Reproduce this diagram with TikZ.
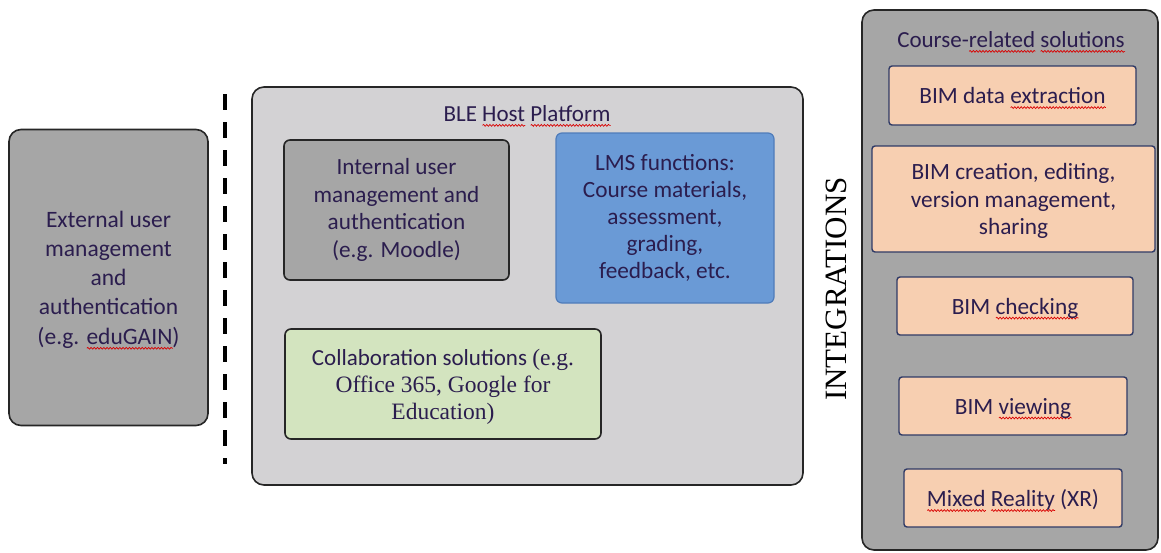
\documentclass[tikz,border=0pt]{standalone}
\usepackage{fontspec}
\setmainfont{Carlito}
\newfontfamily\tnr{Liberation Serif}
\usetikzlibrary{decorations.pathmorphing}
\definecolor{txt}{HTML}{2B1D4E}
\definecolor{gdark}{HTML}{A6A6A6}
\definecolor{glight}{HTML}{D3D2D4}
\definecolor{lmsfill}{HTML}{6A9AD6}
\definecolor{lmsdraw}{HTML}{4F7CBA}
\definecolor{colfill}{HTML}{D3E4BF}
\definecolor{orfill}{HTML}{F7CFB1}
\definecolor{ordraw}{HTML}{2F3A66}
\newcommand\sq[1]{\setbox0\hbox{#1}\rlap{\tikz[baseline=0pt,sharp corners]\draw[red!85!black,line width=0.7pt,sharp corners,decorate,decoration={snake,amplitude=0.9pt,segment length=3.2pt}] (0pt,-4pt) -- (\wd0,-4pt);}#1}
\tikzset{
  box/.style={draw=black!85, line width=1.6pt, rounded corners=6pt, minimum width=#1, inner sep=0pt, text=txt, align=center},
  orbox/.style={draw=ordraw, fill=orfill, line width=1.4pt, rounded corners=3pt, inner sep=0pt, text=txt, align=center, text depth=0pt, font=\fontsize{23.3}{27.5}\selectfont},
  lbl/.style={text=txt, inner sep=0pt, align=center}
}
\begin{document}
\begin{tikzpicture}[x=1pt,y=-1pt]
\useasboundingbox (0,0) rectangle (1161,552);
% external
\node[box=199pt, fill=gdark, minimum height=296pt, rounded corners=12pt, text depth=0pt, font=\fontsize{23.5}{29.3}\selectfont] (ext) at (108.5,277.5)
  {External user\\management\\and\\authentication\\(e.g. \sq{eduGAIN})};
% dashed separator
\coordinate (dtop) at (225,94);
\coordinate (dbot) at (225,464);
\draw[line width=3.6pt, dash pattern=on 16pt off 12pt] (dtop) -- (dbot);
% BLE host platform
\node[box=551pt, fill=glight, minimum height=398pt, rounded corners=12pt] (ble) at (527.5,286) {};
\node[lbl, font=\fontsize{23}{27}\selectfont] (bletitle) at (527,116) {BLE \sq{Host} \sq{Platform}};
\node[box=225pt, fill=gdark, minimum height=140pt, font=\fontsize{23.2}{27.5}\selectfont] (int) at (396.5,210)
  {Internal user\\management and\\authentication\\(e.g. Moodle)};
\node[box=218pt, draw=lmsdraw, fill=lmsfill, minimum height=170pt, line width=1.2pt, font=\fontsize{23.3}{27.2}\selectfont] (lms) at (665,218)
  {LMS functions:\\Course materials,\\assessment,\\grading,\\feedback,\ etc.};
\node[box=316pt, fill=colfill, minimum height=110pt, text depth=0pt, font=\fontsize{23}{27}\selectfont] (col) at (443,384)
  {Collaboration solutions {\tnr\fontsize{23.5}{27}\selectfont (e.g.}\\{\tnr\fontsize{23.5}{27}\selectfont Office 365, Google for}\\{\tnr\fontsize{23.5}{27}\selectfont Education)}};
% integrations
\node[inner sep=0pt, rotate=90, text=black, font=\tnr\fontsize{31}{31}\selectfont] (integ) at (836,289) {INTEGRATIONS};
% right container
\node[box=296pt, fill=gdark, minimum height=540pt, rounded corners=12pt] (right) at (1010,280) {};
\node[lbl, font=\fontsize{23}{27}\selectfont] (rtitle) at (1011,42) {Course-\sq{related} \sq{solutions}};
\node[orbox, minimum width=247pt, minimum height=59pt] (o1) at (1012.5,95.5) {BIM data \sq{extraction}};
\node[orbox, minimum width=283pt, minimum height=106pt] (o2) at (1013.5,199) {BIM creation, editing,\\version management,\\sharing};
\node[orbox, minimum width=236pt, minimum height=58pt] (o3) at (1015,306) {BIM \sq{checking}};
\node[orbox, minimum width=228pt, minimum height=58pt] (o4) at (1013,406) {BIM \sq{viewing}};
\node[orbox, minimum width=218pt, minimum height=58pt] (o5) at (1013,498) {\sq{Mixed} \sq{Reality} (XR)};
\end{tikzpicture}
\end{document}
